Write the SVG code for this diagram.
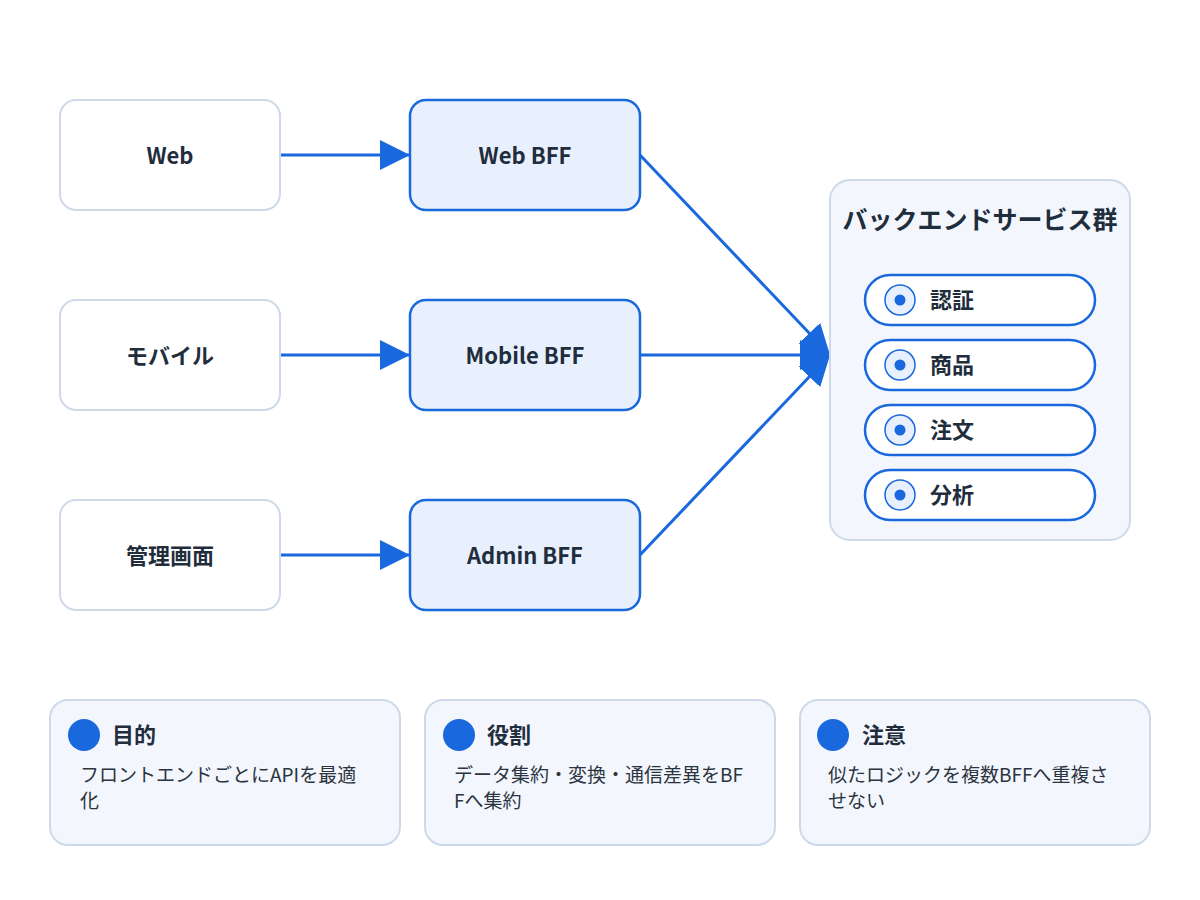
<svg xmlns="http://www.w3.org/2000/svg" width="1200" height="900" viewBox="0 0 1200 900">
<style>
text{font-family:"Noto Sans CJK JP","Noto Sans",sans-serif;fill:#1f2d3d}
.lbl{font-size:22px;font-weight:700;text-anchor:middle}
.client{fill:#ffffff;stroke:#cfd9ea;stroke-width:2}
.bff{fill:#e8f0fd;stroke:#1a68de;stroke-width:2.5}
.edge{stroke:#1a68de;stroke-width:3;fill:none}
.group{fill:#f3f7fd;stroke:#cdd9eb;stroke-width:2}
.svc{fill:#ffffff;stroke:#1a68de;stroke-width:2.5}
.ring{fill:#e8f0fd;stroke:#1a68de;stroke-width:1.5}
.dot{fill:#1a68de}
.svct{font-size:22px;font-weight:700}
.card{fill:#f3f7fd;stroke:#cdd9eb;stroke-width:2}
.ct{font-size:22px;font-weight:700}
.cb{font-size:19px;fill:#2b3440}
</style>
<defs>
<marker id="arr" markerUnits="userSpaceOnUse" markerWidth="30" markerHeight="30" refX="30" refY="15" orient="auto">
<path d="M0,0 L30,15 L0,30 z" fill="#1a68de"/>
</marker>
</defs>
<rect width="1200" height="900" fill="#ffffff"/>

<g id="connectors">
<line class="edge" x1="280" y1="155" x2="410" y2="155" marker-end="url(#arr)"/>
<line class="edge" x1="280" y1="355" x2="410" y2="355" marker-end="url(#arr)"/>
<line class="edge" x1="280" y1="555" x2="410" y2="555" marker-end="url(#arr)"/>
<line class="edge" x1="640" y1="155" x2="830" y2="355" marker-end="url(#arr)"/>
<line class="edge" x1="640" y1="355" x2="830" y2="355" marker-end="url(#arr)"/>
<line class="edge" x1="640" y1="555" x2="830" y2="355" marker-end="url(#arr)"/>
</g>

<g id="web">
<rect class="client" x="60" y="100" width="220" height="110" rx="16"/>
<text class="lbl" x="170" y="164">Web</text>
</g>
<g id="mobile">
<rect class="client" x="60" y="300" width="220" height="110" rx="16"/>
<text class="lbl" x="170" y="364">モバイル</text>
</g>
<g id="admin">
<rect class="client" x="60" y="500" width="220" height="110" rx="16"/>
<text class="lbl" x="170" y="564">管理画面</text>
</g>

<g id="web-bff">
<rect class="bff" x="410" y="100" width="230" height="110" rx="16"/>
<text class="lbl" x="525" y="164">Web BFF</text>
</g>
<g id="mobile-bff">
<rect class="bff" x="410" y="300" width="230" height="110" rx="16"/>
<text class="lbl" x="525" y="364">Mobile BFF</text>
</g>
<g id="admin-bff">
<rect class="bff" x="410" y="500" width="230" height="110" rx="16"/>
<text class="lbl" x="525" y="564">Admin BFF</text>
</g>

<g id="backend">
<rect class="group" x="830" y="180" width="300" height="360" rx="20"/>
<text class="lbl" x="980" y="229" style="font-size:25px">バックエンドサービス群</text>
<g id="svc-auth">
<rect class="svc" x="865" y="275" width="230" height="50" rx="25"/>
<circle class="ring" cx="900" cy="300" r="15"/>
<circle class="dot" cx="900" cy="300" r="5.5"/>
<text class="svct" x="930" y="308">認証</text>
</g>
<g id="svc-product">
<rect class="svc" x="865" y="340" width="230" height="50" rx="25"/>
<circle class="ring" cx="900" cy="365" r="15"/>
<circle class="dot" cx="900" cy="365" r="5.5"/>
<text class="svct" x="930" y="373">商品</text>
</g>
<g id="svc-order">
<rect class="svc" x="865" y="405" width="230" height="50" rx="25"/>
<circle class="ring" cx="900" cy="430" r="15"/>
<circle class="dot" cx="900" cy="430" r="5.5"/>
<text class="svct" x="930" y="438">注文</text>
</g>
<g id="svc-analytics">
<rect class="svc" x="865" y="470" width="230" height="50" rx="25"/>
<circle class="ring" cx="900" cy="495" r="15"/>
<circle class="dot" cx="900" cy="495" r="5.5"/>
<text class="svct" x="930" y="503">分析</text>
</g>
</g>

<g id="card-purpose">
<rect class="card" x="50" y="700" width="350" height="145" rx="18"/>
<circle class="dot" cx="84" cy="735" r="16"/>
<text class="ct" x="112" y="743">目的</text>
<text class="cb" x="80" y="782">フロントエンドごとにAPIを最適</text>
<text class="cb" x="80" y="808">化</text>
</g>
<g id="card-role">
<rect class="card" x="425" y="700" width="350" height="145" rx="18"/>
<circle class="dot" cx="459" cy="735" r="16"/>
<text class="ct" x="487" y="743">役割</text>
<text class="cb" x="454" y="782">データ集約・変換・通信差異をBF</text>
<text class="cb" x="454" y="808">Fへ集約</text>
</g>
<g id="card-caution">
<rect class="card" x="800" y="700" width="350" height="145" rx="18"/>
<circle class="dot" cx="833" cy="735" r="16"/>
<text class="ct" x="862" y="743">注意</text>
<text class="cb" x="828" y="782">似たロジックを複数BFFへ重複さ</text>
<text class="cb" x="828" y="808">せない</text>
</g>
</svg>
